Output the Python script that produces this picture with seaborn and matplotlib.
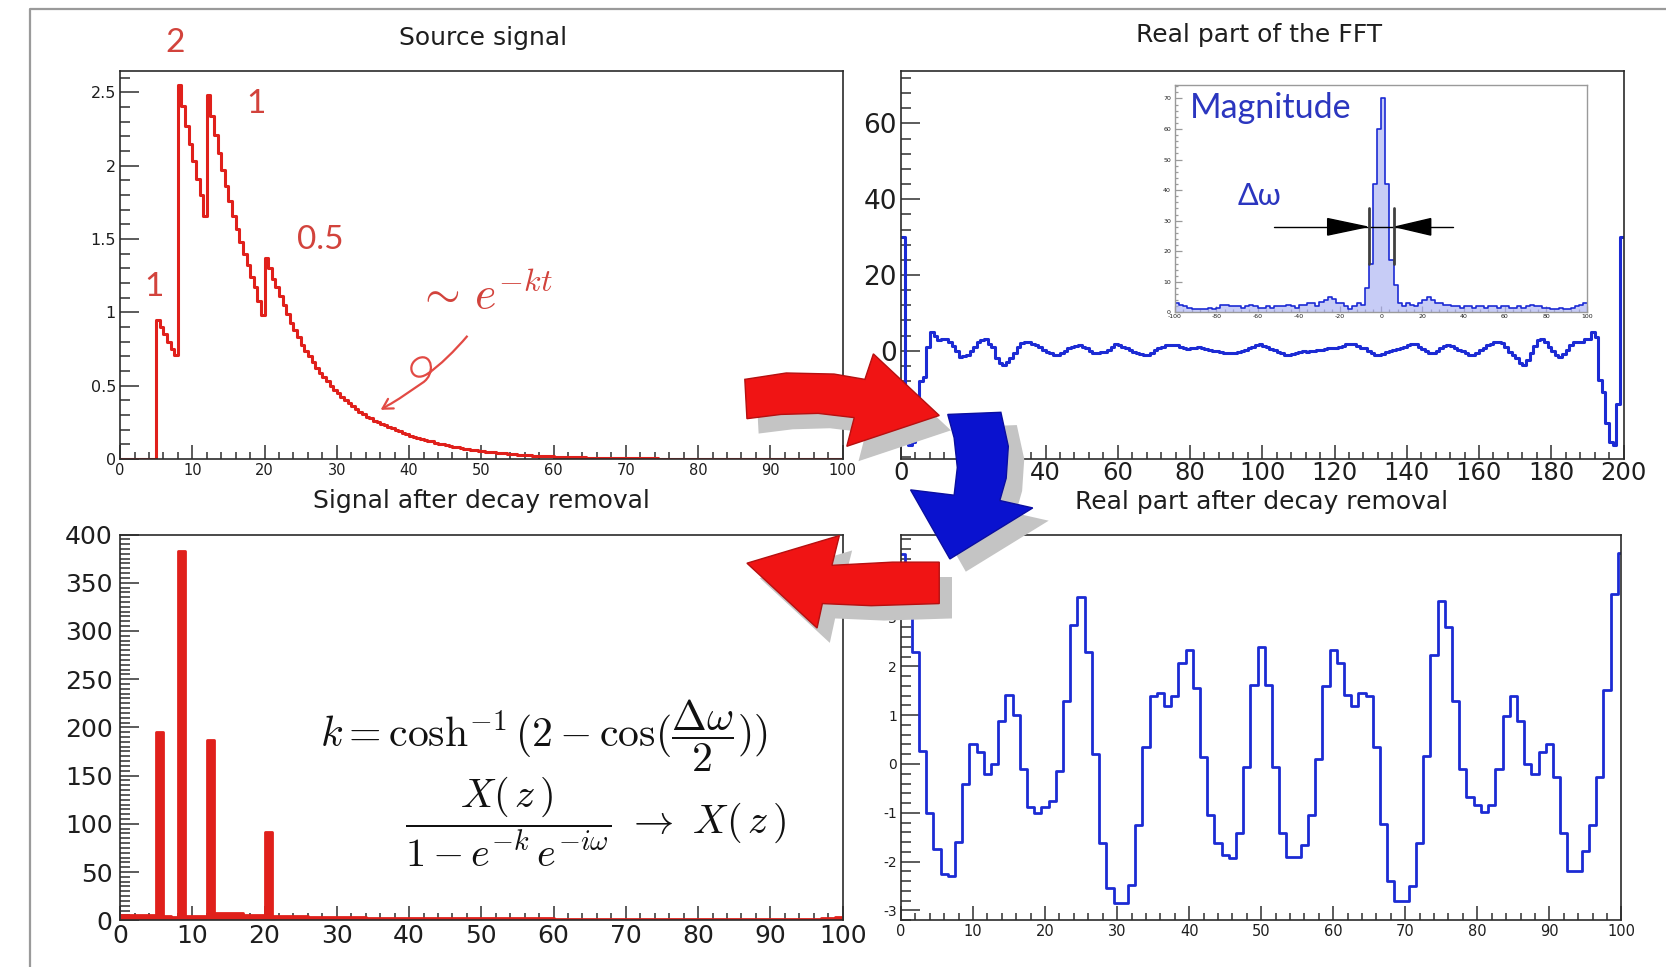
import numpy as np
import matplotlib
matplotlib.use("Agg")
import matplotlib.pyplot as plt
from matplotlib.patches import Polygon, FancyArrowPatch, PathPatch
from matplotlib.path import Path
from matplotlib.ticker import MultipleLocator, FuncFormatter
from matplotlib.lines import Line2D
import seaborn as sns

sns.set_style("white")
plt.rcParams["font.family"] = ["DejaVu Sans"]
plt.rcParams["mathtext.fontset"] = "cm"
plt.rcParams["axes.unicode_minus"] = False

# ---------------------------------------------------------------- data
# source signal: 200 half-unit bins on [0, 100]
source_signal = [
    0, 0, 0, 0, 0, 0, 0, 0, 0, 0,
    0.95, 0.90, 0.85, 0.80, 0.75, 0.71,
    2.55, 2.41, 2.27, 2.15, 2.03, 1.91, 1.80, 1.66,
    2.48, 2.34, 2.21, 2.09, 1.97, 1.86, 1.76, 1.66, 1.57, 1.48, 1.40, 1.32, 1.24, 1.17, 1.08, 0.98,
    1.37, 1.30, 1.23, 1.17, 1.11, 1.05, 0.99, 0.93, 0.88, 0.83,
    0.78, 0.74, 0.70, 0.66, 0.62, 0.59, 0.56, 0.53, 0.50, 0.47,
    0.45, 0.42, 0.40, 0.38, 0.36, 0.34, 0.32, 0.31, 0.29, 0.28,
    0.26, 0.25, 0.24, 0.23, 0.22, 0.21, 0.20, 0.19, 0.18, 0.17,
    0.16, 0.15, 0.145, 0.14, 0.13, 0.125, 0.12, 0.11, 0.105, 0.10,
    0.095, 0.09, 0.085, 0.08, 0.076, 0.072, 0.068, 0.064, 0.06, 0.057,
    0.054, 0.051, 0.048, 0.045, 0.043, 0.040, 0.038, 0.036, 0.034, 0.032,
    0.030, 0.028, 0.027, 0.025, 0.024, 0.023, 0.021, 0.020, 0.019, 0.018,
    0.017, 0.016, 0.015, 0.014, 0.013, 0.013, 0.012, 0.011, 0.011, 0.010,
    0.010, 0.009, 0.009, 0.008, 0.008, 0.007, 0.007, 0.007, 0.006, 0.006,
    0.006, 0.005, 0.005, 0.005, 0.005, 0.004, 0.004, 0.004, 0.004, 0.003,
    0.003, 0.003, 0.003, 0.003, 0.003, 0.003, 0.003, 0.003, 0.003, 0.003,
    0.002, 0.002, 0.002, 0.002, 0.002, 0.002, 0.002, 0.002, 0.002, 0.002,
    0.002, 0.002, 0.002, 0.002, 0.002, 0.002, 0.002, 0.002, 0.002, 0.002,
    0.001, 0.001, 0.001, 0.001, 0.001, 0.001, 0.001, 0.001, 0.001, 0.001,
    0.001, 0.001, 0.001, 0.001, 0.001, 0.001, 0.001, 0.001, 0.001, 0.001,
]

# real part of the FFT: 200 bins on [0, 200]
fft_real = [
    30, -20, -25, -24, -15, -8, -7, 1, 5, 4,
    2.8, 3.2, 3.0, 2.4, 1.2, 0, -1.6, -1.5, -1.1, 0,
    1, 2.2, 2.8, 3.2, 1.8, 1.0, -2.0, -3.3, -3.8, -3.0,
    -2.0, -0.5, 1.0, 2.0, 2.4, 2.2, 1.9, 1.4, 1.0, 0.2,
    -0.4, -0.7, -1.1, -1.0, -0.7, 0, 0.6, 1.0, 1.3, 1.5,
    1.0, 0.6, 0, -0.7, -0.6, -0.4, -0.3, 0.3, 1.0, 1.9,
    1.6, 1.0, 0.6, 0.2, -0.3, -0.7, -0.9, -1.1, -1.1, -0.6,
    0.2, 0.6, 1.0, 1.4, 1.5, 1.5, 1.5, 1.0, 0.6, 0.5,
    0.6, 0.8, 1.0, 0.7, 0.4, 0.2, 0, -0.2, -0.3, -0.5,
    -0.6, -0.7, -0.6, -0.3, 0, 0.2, 0.6, 1.0, 1.4, 1.9,
    1.2, 0.9, 0.5, 0.2, -0.3, -0.7, -1.1, -1.1, -0.8, -0.5,
    -0.3, -0.2, -0.3, -0.2, 0, 0.2, 0.2, 0.4, 0.6, 0.8,
    0.8, 0.9, 1.3, 1.7, 1.9, 1.8, 1.3, 0.8, 0.6, 0,
    -0.5, -1.0, -1.1, -0.8, -0.3, 0, 0.2, 0.5, 0.8, 1.0,
    1.5, 1.9, 1.7, 1.0, 0.5, -0.2, -0.7, -0.5, 0, 0.6,
    1.2, 1.5, 1.2, 0.6, 0.2, -0.2, -0.7, -1.1, -1.1, -0.6,
    0.2, 0.8, 1.5, 1.9, 2.2, 2.4, 2.0, 1.0, -0.3, -1.2,
    -2.0, -3.3, -3.8, -2.5, -0.7, 1.2, 2.8, 3.2, 2.3, 1.0,
    -0.2, -1.2, -1.6, -0.8, 0.2, 1.5, 2.4, 2.4, 2.2, 3.0,
    3.2, 5.0, 3.7, -7.7, -11, -19, -24, -25, -14, 30,
]

# FFT magnitude (inset): 100 bins of width 2 on [-100, 100]
fft_magnitude = [
    3, 2.5, 2, 1.5, 1, 1, 1, 1, 1.5, 1,
    1.5, 2.5, 2.5, 2, 2, 2, 1.5, 2, 2.5, 2,
    1.5, 1.5, 2, 1.5, 2, 2, 2, 2.5, 2, 1.5,
    2.5, 2.5, 3, 3, 2, 3.5, 4, 5, 4.5, 3,
    3, 2, 1, 2, 3, 2.5, 8, 16, 42, 60,
    70, 42, 17, 9, 3, 2, 3, 2.5, 2, 3,
    4, 5, 4, 3, 3, 2.5, 2.5, 2, 2, 1.5,
    2, 2, 1.5, 2, 2, 1.5, 2, 2, 1.5, 2,
    2, 1.5, 1.5, 2, 1.5, 2, 2.5, 2, 2, 1.5,
    1.5, 1, 1, 1.5, 1, 1, 1.5, 2, 2.5, 3,
]

# signal after decay removal: 100 bins on [0, 100]
deconvolved = [
    5, 5, 5, 5, 5, 195, 4, 3, 383, 4,
    4, 4, 187, 7, 7, 7, 7, 5, 5, 5,
    91, 4, 4, 4, 4, 4, 3, 3, 3, 3,
    3, 3, 3, 3, 2, 2, 2, 2, 2, 2,
    2, 2, 2, 2, 2, 2, 2, 2, 2, 2,
    2, 2, 2, 2, 2, 2, 2, 2, 2, 2,
    1.5, 1.5, 1.5, 1.5, 1.5, 1.5, 1.5, 1.5, 1.5, 1.5,
    1.5, 1.5, 1.5, 1.5, 1.5, 1.5, 1.5, 1.5, 1.5, 1.5,
    1.5, 1.5, 1.5, 1.5, 1.5, 1.5, 1.5, 1.5, 1.5, 1.5,
    1.5, 1.5, 1.5, 1.5, 1.5, 1.5, 1.5, 2, 2, 3,
]

# real part after decay removal: 101 bins centred on 0..100
real_after = [
    4.3, 3.5, 2.3, 0.27, -1.0, -1.75, -2.25, -2.3, -1.6, -0.4,
    0.4, 0.25, -0.2, 0.0, 0.88, 1.42, 1.0, -0.1, -0.88, -1.0,
    -0.88, -0.75, -0.15, 1.28, 2.84, 3.41, 2.3, 0.2, -1.62, -2.53,
    -2.84, -2.84, -2.47, -1.25, 0.34, 1.39, 1.45, 1.18, 1.39, 2.06,
    2.33, 1.55, 0.14, -1.05, -1.62, -1.86, -1.93, -1.42, -0.07, 1.62,
    2.4, 1.62, -0.07, -1.42, -1.9, -1.9, -1.65, -1.05, 0.1, 1.59,
    2.33, 2.06, 1.42, 1.18, 1.45, 1.39, 0.34, -1.22, -2.4, -2.8,
    -2.8, -2.5, -1.62, 0.17, 2.23, 3.34, 2.8, 1.28, -0.1, -0.68,
    -0.84, -0.98, -0.84, -0.1, 0.98, 1.39, 0.88, 0.0, -0.2, 0.24,
    0.4, -0.27, -1.42, -2.2, -2.2, -1.79, -1.25, -0.27, 1.52, 3.48,
    4.32,
]

panel_titles = ["Source signal", "Real part of the FFT",
                "Signal after decay removal", "Real part after decay removal"]
amplitude_labels = ["1", "2", "1", "0.5"]
delta_w_half = 6       # half width of the magnitude peak
delta_w_level = 28     # height of the width marker

RED = "#e0201b"
BLUE = "#1c2bd4"
LABEL_RED = "#d2433c"
TEXT_BLUE = "#2b36bf"

# ---------------------------------------------------------------- layout
W, H = 1568.0, 910.0          # layout grid (x to the right, y downward)


def fpt(x, y):
    return (x / W, 1 - y / H)


fig = plt.figure(figsize=(16.66, 9.67), dpi=100)
fig.patch.set_facecolor("white")


def make_axes(l, t, r, b):
    return fig.add_axes([l / W, 1 - b / H, (r - l) / W, (b - t) / H])


ax_src = make_axes(113, 67, 793, 432)
ax_fft = make_axes(848, 67, 1528, 432)
ax_dec = make_axes(113, 503, 793, 866)
ax_re = make_axes(848, 503, 1526, 866)
ax_mag = make_axes(1106, 80, 1494, 294)


def label_fmt(v, _):
    return "0" if abs(v) < 1e-9 else "%g" % v


def step_hist(ax, values, edges, color, lw, fill=False, alpha=1.0):
    edges = np.asarray(edges, dtype=float)
    centers = 0.5 * (edges[:-1] + edges[1:])
    sns.histplot(x=centers, weights=np.asarray(values, dtype=float),
                 bins=edges.tolist(), element="step", fill=fill,
                 color=color, linewidth=lw, alpha=alpha, ax=ax)


def root_axes(ax, xlim, ylim, xmaj, xmin, ymaj, ymin, xfs, yfs,
              ylen=(14, 7), xlen=(10, 5), frame="#2b2b2b", lw=1.2,
              xpad=3.0, ypad=3.0):
    ax.set_xlim(*xlim)
    ax.set_ylim(*ylim)
    ax.xaxis.set_major_locator(MultipleLocator(xmaj))
    ax.xaxis.set_minor_locator(MultipleLocator(xmin))
    ax.yaxis.set_major_locator(MultipleLocator(ymaj))
    ax.yaxis.set_minor_locator(MultipleLocator(ymin))
    ax.xaxis.set_major_formatter(FuncFormatter(label_fmt))
    ax.yaxis.set_major_formatter(FuncFormatter(label_fmt))
    ax.tick_params(which="both", direction="in", bottom=True, left=True,
                   top=False, right=False, color=frame, width=lw * 0.9,
                   labelcolor="#1e1e1e")
    ax.tick_params(axis="y", which="major", length=ylen[0], labelsize=yfs, pad=ypad)
    ax.tick_params(axis="y", which="minor", length=ylen[1])
    ax.tick_params(axis="x", which="major", length=xlen[0], labelsize=xfs, pad=xpad)
    ax.tick_params(axis="x", which="minor", length=xlen[1])
    ax.set_xlabel("")
    ax.set_ylabel("")
    ax.set_facecolor("white")
    for s in ax.spines.values():
        s.set_visible(True)
        s.set_color(frame)
        s.set_linewidth(lw)


# ---------------------------------------------------------------- panels
step_hist(ax_src, source_signal, np.linspace(0, 100, len(source_signal) + 1), RED, 2.2)
root_axes(ax_src, (0, 100), (0, 2.645), 10, 2, 0.5, 0.1, 10.5, 11.5)

step_hist(ax_fft, fft_real, np.linspace(0, 200, len(fft_real) + 1), BLUE, 2.2)
root_axes(ax_fft, (0, 200), (-28.6, 73.8), 20, 4, 20, 4, 17.5, 19, xpad=1.5)

dec_edges = np.linspace(0, 100, len(deconvolved) + 1)
step_hist(ax_dec, deconvolved, dec_edges, RED, 0, fill=True, alpha=1.0)
step_hist(ax_dec, deconvolved, dec_edges, RED, 2.0)
root_axes(ax_dec, (0, 100), (0, 400), 10, 2, 50, 5, 18, 18, ypad=5.5)

step_hist(ax_re, real_after, np.arange(len(real_after) + 1) - 0.5, BLUE, 2.0)
root_axes(ax_re, (0, 100), (-3.2, 4.7), 10, 2, 1, 0.2, 10.5, 10)

mag_edges = np.linspace(-100, 100, len(fft_magnitude) + 1)
step_hist(ax_mag, fft_magnitude, mag_edges, "#a3aaf0", 0, fill=True, alpha=0.6)
step_hist(ax_mag, fft_magnitude, mag_edges, BLUE, 1.2)
root_axes(ax_mag, (-100, 100), (0, 74.4), 20, 4, 10, 2, 4.5, 4.5,
          ylen=(5, 2.5), xlen=(4, 2), frame="#9a9a9a", lw=1.0, xpad=1.5)

# width marker on the magnitude peak
ax_mag.plot([-52, 35], [delta_w_level] * 2, color="black", lw=1.0, zorder=4)
for sx in (-delta_w_half, delta_w_half):
    ax_mag.plot([sx, sx], [16, 34], color="#404040", lw=2.0, zorder=4)
ax_mag.add_patch(Polygon([(-26, delta_w_level - 2.7), (-26, delta_w_level + 2.7),
                          (-delta_w_half - 1, delta_w_level)], closed=True,
                         color="black", zorder=5))
ax_mag.add_patch(Polygon([(24, delta_w_level - 2.7), (24, delta_w_level + 2.7),
                          (delta_w_half + 1, delta_w_level)], closed=True,
                         color="black", zorder=5))
ax_mag.text(-93, 67, "Magnitude", color=TEXT_BLUE, fontsize=24.5,
            family=["Lato", "DejaVu Sans"], ha="left", va="center", zorder=6)
ax_mag.text(-59, 38, "Δω", color=TEXT_BLUE, fontsize=22,
            family=["Lato", "DejaVu Sans"], ha="center", va="center", zorder=6)

# ---------------------------------------------------------------- titles
title_pos = [(455, 36), (1185, 33), (453, 471), (1187, 472)]
for txt, (x, y) in zip(panel_titles, title_pos):
    fig.text(*fpt(x, y), txt, ha="center", va="center", fontsize=18,
             color="#1e1e1e")

# amplitude labels on the source peaks
amp_pos = [(145, 270), (165, 40), (241, 98), (301, 226)]
for txt, (x, y) in zip(amplitude_labels, amp_pos):
    fig.text(*fpt(x, y), txt, ha="center", va="center", fontsize=24,
             color=LABEL_RED, family=["Lato", "DejaVu Sans"])

fig.text(*fpt(456, 280), r"$\sim\, e^{-kt}$", ha="center", va="center",
         fontsize=33, color=LABEL_RED)

# hand-drawn pointer with a loop
pointer = [fpt(440, 316),
           fpt(428, 330), fpt(414, 344), fpt(402, 352),
           fpt(388, 361), fpt(381, 343), fpt(394, 337),
           fpt(407, 332), fpt(410, 352), fpt(398, 360),
           fpt(386, 368), fpt(374, 377), fpt(364, 382)]
codes = [Path.MOVETO] + [Path.CURVE4] * 12
fig.add_artist(PathPatch(Path(pointer, codes), transform=fig.transFigure,
                         facecolor="none", edgecolor="#e24a44", lw=1.6, zorder=8))
fig.add_artist(FancyArrowPatch(fpt(366, 381), fpt(356, 387), transform=fig.transFigure,
                               arrowstyle="->,head_length=7,head_width=4",
                               color="#e24a44", lw=1.6, zorder=8))

# formulas
fig.text(*fpt(512, 693), r"$k = \cosh^{-1}(2 - \cos(\dfrac{\Delta\omega}{2}))$",
         ha="center", va="center", fontsize=30, color="#111111")
fig.text(*fpt(561, 773),
         r"$\dfrac{X(\,z\,)}{1 - e^{-k}\,e^{-i\omega}}\ \rightarrow\ X(\,z\,)$",
         ha="center", va="center", fontsize=29, color="#111111")

# ---------------------------------------------------------------- flow arrows
arrow_right = [(701, 357), (740, 351), (785, 352), (814, 357), (822, 333), (884, 391),
               (797, 420), (804, 393), (770, 389), (735, 390), (703, 394)]
arrow_down = [(892, 390), (942, 388), (949, 420), (947, 450), (941, 471), (972, 478),
              (894, 526), (857, 461), (898, 466), (901, 440), (898, 412)]
arrow_left = [(884, 529), (840, 529), (783, 532), (790, 504), (703, 530), (769, 591),
              (774, 568), (820, 570), (884, 568)]


def shape(points, dx=0, dy=0, **kw):
    verts = [fpt(x + dx, y + dy) for x, y in points]
    fig.add_artist(Polygon(verts, closed=True, transform=fig.transFigure, **kw))


SHADOW = "#c4c4c4"
shape(arrow_right, 11, 14, facecolor=SHADOW, edgecolor="none", zorder=5)
shape(arrow_down, 15, 12, facecolor=SHADOW, edgecolor="none", zorder=5)
shape(arrow_left, 12, 14, facecolor=SHADOW, edgecolor="none", zorder=5)
shape(arrow_right, facecolor="#f01414", edgecolor="#b51010", lw=1.0, zorder=6)
shape(arrow_down, facecolor="#0a12cf", edgecolor="#0a0ea0", lw=1.0, zorder=6)
shape(arrow_left, facecolor="#f01414", edgecolor="#b51010", lw=1.0, zorder=6)

# slide frame
fx0, fy0 = fpt(28, 910)
fx1, fy1 = fpt(28, 8)
fx2, _ = fpt(1568, 8)
fig.add_artist(Line2D([fx0, fx1, fx2], [fy0, fy1, fy1], transform=fig.transFigure,
                      color="#9a9a9a", lw=1.6, zorder=9))

fig.savefig("out.png", dpi=100, facecolor="white")
